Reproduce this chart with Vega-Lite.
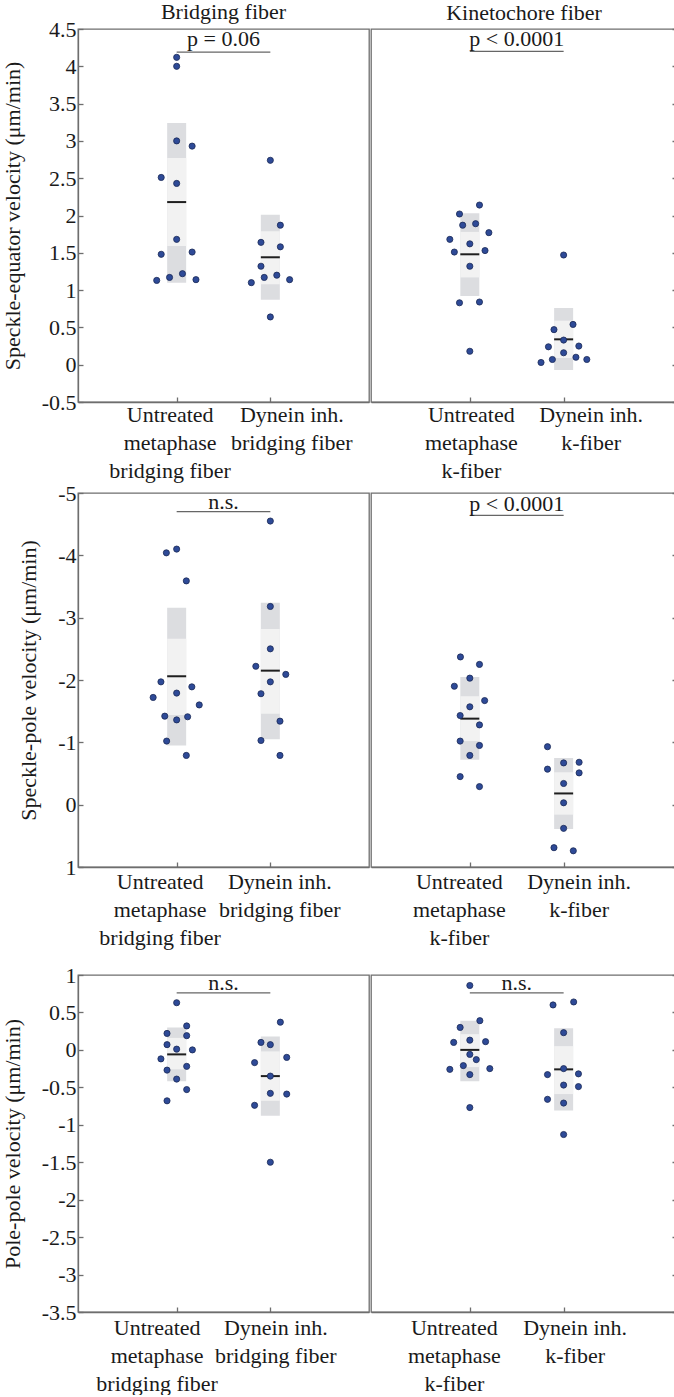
{
  "$schema": "https://vega.github.io/schema/vega-lite/v6.json",
  "padding": {"left": 0, "top": 0, "right": 0, "bottom": 0},
  "background": "white",
  "config": {
    "font": "Liberation Serif",
    "view": {"stroke": "#6e6e6e", "strokeWidth": 1.3},
    "axis": {"domainColor": "#6e6e6e", "domainWidth": 1.3, "tickColor": "#6e6e6e", "tickWidth": 1.3, "tickSize": -5, "labelFont": "Liberation Serif", "labelFontSize": 22, "labelColor": "#1a1a1a", "titleFont": "Liberation Serif", "titleFontSize": 22, "titleFontWeight": "normal", "titleColor": "#1a1a1a", "grid": false, "labelOverlap": false},
    "axisX": {"labelPadding": 5, "labelLineHeight": 28},
    "axisY": {"labelPadding": 7, "titlePadding": 17, "labelOverlap": false},
    "title": {"font": "Liberation Serif", "fontSize": 22, "fontWeight": "normal", "color": "#1a1a1a"}
  },
  "datasets": {
    "summary": [
      {"measure": "eq", "fiber": "B", "slot": 1, "mean": 2.18, "ci_lo": 1.59, "ci_hi": 2.77, "sd_lo": 1.10, "sd_hi": 3.24},
      {"measure": "eq", "fiber": "B", "slot": 2, "mean": 1.44, "ci_lo": 1.08, "ci_hi": 1.79, "sd_lo": 0.87, "sd_hi": 2.01},
      {"measure": "eq", "fiber": "K", "slot": 1, "mean": 1.48, "ci_lo": 1.17, "ci_hi": 1.78, "sd_lo": 0.92, "sd_hi": 2.03},
      {"measure": "eq", "fiber": "K", "slot": 2, "mean": 0.34, "ci_lo": 0.09, "ci_hi": 0.59, "sd_lo": -0.07, "sd_hi": 0.76},
      {"measure": "pole", "fiber": "B", "slot": 1, "mean": -2.06, "ci_lo": -2.66, "ci_hi": -1.44, "sd_lo": -3.16, "sd_hi": -0.95},
      {"measure": "pole", "fiber": "B", "slot": 2, "mean": -2.15, "ci_lo": -2.82, "ci_hi": -1.46, "sd_lo": -3.24, "sd_hi": -1.05},
      {"measure": "pole", "fiber": "K", "slot": 1, "mean": -1.38, "ci_lo": -1.74, "ci_hi": -1.02, "sd_lo": -2.05, "sd_hi": -0.72},
      {"measure": "pole", "fiber": "K", "slot": 2, "mean": -0.18, "ci_lo": -0.52, "ci_hi": 0.16, "sd_lo": -0.75, "sd_hi": 0.39},
      {"measure": "pp", "fiber": "B", "slot": 1, "mean": -0.06, "ci_lo": -0.26, "ci_hi": 0.16, "sd_lo": -0.42, "sd_hi": 0.30},
      {"measure": "pp", "fiber": "B", "slot": 2, "mean": -0.35, "ci_lo": -0.68, "ci_hi": -0.02, "sd_lo": -0.88, "sd_hi": 0.18},
      {"measure": "pp", "fiber": "K", "slot": 1, "mean": 0.00, "ci_lo": -0.23, "ci_hi": 0.21, "sd_lo": -0.42, "sd_hi": 0.39},
      {"measure": "pp", "fiber": "K", "slot": 2, "mean": -0.26, "ci_lo": -0.59, "ci_hi": 0.05, "sd_lo": -0.81, "sd_hi": 0.29}
    ],
    "sig": [
      {"measure": "eq", "fiber": "B", "xa": 1, "xb": 2, "xm": 1.5, "yl": 4.19, "yt": 4.36, "label": "p = 0.06"},
      {"measure": "eq", "fiber": "K", "xa": 1, "xb": 2, "xm": 1.5, "yl": 4.20, "yt": 4.36, "label": "p < 0.0001"},
      {"measure": "pole", "fiber": "B", "xa": 1, "xb": 2, "xm": 1.5, "yl": -4.70, "yt": -4.86, "label": "n.s."},
      {"measure": "pole", "fiber": "K", "xa": 1, "xb": 2, "xm": 1.5, "yl": -4.64, "yt": -4.83, "label": "p < 0.0001"},
      {"measure": "pp", "fiber": "B", "xa": 1, "xb": 2, "xm": 1.5, "yl": 0.76, "yt": 0.89, "label": "n.s."},
      {"measure": "pp", "fiber": "K", "xa": 1, "xb": 2, "xm": 1.5, "yl": 0.76, "yt": 0.89, "label": "n.s."}
    ],
    "points": [
      {"measure": "eq", "fiber": "B", "x": 1, "v": 4.12}, {"measure": "eq", "fiber": "B", "x": 1, "v": 4.0}, {"measure": "eq", "fiber": "B", "x": 1, "v": 3.0},
      {"measure": "eq", "fiber": "B", "x": 1.165, "v": 2.93}, {"measure": "eq", "fiber": "B", "x": 0.835, "v": 2.51}, {"measure": "eq", "fiber": "B", "x": 1, "v": 2.43},
      {"measure": "eq", "fiber": "B", "x": 1, "v": 1.68}, {"measure": "eq", "fiber": "B", "x": 0.835, "v": 1.48}, {"measure": "eq", "fiber": "B", "x": 1.165, "v": 1.51},
      {"measure": "eq", "fiber": "B", "x": 0.787, "v": 1.13}, {"measure": "eq", "fiber": "B", "x": 0.924, "v": 1.17}, {"measure": "eq", "fiber": "B", "x": 1.062, "v": 1.22},
      {"measure": "eq", "fiber": "B", "x": 1.206, "v": 1.14},
      {"measure": "eq", "fiber": "B", "x": 2, "v": 2.74}, {"measure": "eq", "fiber": "B", "x": 2.107, "v": 1.87}, {"measure": "eq", "fiber": "B", "x": 1.9, "v": 1.64},
      {"measure": "eq", "fiber": "B", "x": 2.107, "v": 1.58}, {"measure": "eq", "fiber": "B", "x": 1.9, "v": 1.32}, {"measure": "eq", "fiber": "B", "x": 1.935, "v": 1.17},
      {"measure": "eq", "fiber": "B", "x": 2.069, "v": 1.20}, {"measure": "eq", "fiber": "B", "x": 1.797, "v": 1.10}, {"measure": "eq", "fiber": "B", "x": 2.206, "v": 1.14},
      {"measure": "eq", "fiber": "B", "x": 2, "v": 0.64},
      {"measure": "eq", "fiber": "K", "x": 1.103, "v": 2.14}, {"measure": "eq", "fiber": "K", "x": 0.89, "v": 2.02}, {"measure": "eq", "fiber": "K", "x": 0.924, "v": 1.87},
      {"measure": "eq", "fiber": "K", "x": 1.062, "v": 1.89}, {"measure": "eq", "fiber": "K", "x": 1.203, "v": 1.77}, {"measure": "eq", "fiber": "K", "x": 0.787, "v": 1.68},
      {"measure": "eq", "fiber": "K", "x": 1, "v": 1.62}, {"measure": "eq", "fiber": "K", "x": 0.835, "v": 1.51}, {"measure": "eq", "fiber": "K", "x": 1.162, "v": 1.53},
      {"measure": "eq", "fiber": "K", "x": 1, "v": 1.32}, {"measure": "eq", "fiber": "K", "x": 0.89, "v": 0.83}, {"measure": "eq", "fiber": "K", "x": 1.103, "v": 0.84},
      {"measure": "eq", "fiber": "K", "x": 1, "v": 0.18},
      {"measure": "eq", "fiber": "K", "x": 2, "v": 1.47}, {"measure": "eq", "fiber": "K", "x": 2.1, "v": 0.54}, {"measure": "eq", "fiber": "K", "x": 1.897, "v": 0.47},
      {"measure": "eq", "fiber": "K", "x": 2, "v": 0.33}, {"measure": "eq", "fiber": "K", "x": 1.838, "v": 0.24}, {"measure": "eq", "fiber": "K", "x": 2.162, "v": 0.25},
      {"measure": "eq", "fiber": "K", "x": 2, "v": 0.16}, {"measure": "eq", "fiber": "K", "x": 1.88, "v": 0.07}, {"measure": "eq", "fiber": "K", "x": 2.131, "v": 0.10},
      {"measure": "eq", "fiber": "K", "x": 2.247, "v": 0.07}, {"measure": "eq", "fiber": "K", "x": 1.759, "v": 0.03},
      {"measure": "pole", "fiber": "B", "x": 0.89, "v": -4.04}, {"measure": "pole", "fiber": "B", "x": 1, "v": -4.10}, {"measure": "pole", "fiber": "B", "x": 1.103, "v": -3.59},
      {"measure": "pole", "fiber": "B", "x": 0.832, "v": -1.97}, {"measure": "pole", "fiber": "B", "x": 1.162, "v": -1.89}, {"measure": "pole", "fiber": "B", "x": 1, "v": -1.79},
      {"measure": "pole", "fiber": "B", "x": 0.749, "v": -1.72}, {"measure": "pole", "fiber": "B", "x": 1.241, "v": -1.60}, {"measure": "pole", "fiber": "B", "x": 0.873, "v": -1.42},
      {"measure": "pole", "fiber": "B", "x": 1.117, "v": -1.41}, {"measure": "pole", "fiber": "B", "x": 1, "v": -1.36}, {"measure": "pole", "fiber": "B", "x": 0.893, "v": -1.02},
      {"measure": "pole", "fiber": "B", "x": 1.103, "v": -0.79},
      {"measure": "pole", "fiber": "B", "x": 2, "v": -4.55}, {"measure": "pole", "fiber": "B", "x": 2, "v": -3.18}, {"measure": "pole", "fiber": "B", "x": 2, "v": -2.50},
      {"measure": "pole", "fiber": "B", "x": 1.845, "v": -2.22}, {"measure": "pole", "fiber": "B", "x": 2.165, "v": -2.09}, {"measure": "pole", "fiber": "B", "x": 2, "v": -1.97},
      {"measure": "pole", "fiber": "B", "x": 1.9, "v": -1.78}, {"measure": "pole", "fiber": "B", "x": 2.103, "v": -1.34}, {"measure": "pole", "fiber": "B", "x": 1.9, "v": -1.03},
      {"measure": "pole", "fiber": "B", "x": 2.103, "v": -0.79},
      {"measure": "pole", "fiber": "K", "x": 0.9, "v": -2.37}, {"measure": "pole", "fiber": "K", "x": 1.103, "v": -2.25}, {"measure": "pole", "fiber": "K", "x": 1, "v": -2.03},
      {"measure": "pole", "fiber": "K", "x": 0.835, "v": -1.90}, {"measure": "pole", "fiber": "K", "x": 1.158, "v": -1.67}, {"measure": "pole", "fiber": "K", "x": 1, "v": -1.57},
      {"measure": "pole", "fiber": "K", "x": 0.897, "v": -1.43}, {"measure": "pole", "fiber": "K", "x": 1.103, "v": -1.28}, {"measure": "pole", "fiber": "K", "x": 0.897, "v": -1.02},
      {"measure": "pole", "fiber": "K", "x": 1.103, "v": -0.95}, {"measure": "pole", "fiber": "K", "x": 1, "v": -0.79}, {"measure": "pole", "fiber": "K", "x": 0.897, "v": -0.45},
      {"measure": "pole", "fiber": "K", "x": 1.103, "v": -0.29},
      {"measure": "pole", "fiber": "K", "x": 1.828, "v": -0.93}, {"measure": "pole", "fiber": "K", "x": 2, "v": -0.67}, {"measure": "pole", "fiber": "K", "x": 2.165, "v": -0.68},
      {"measure": "pole", "fiber": "K", "x": 1.828, "v": -0.57}, {"measure": "pole", "fiber": "K", "x": 2.165, "v": -0.51}, {"measure": "pole", "fiber": "K", "x": 2, "v": -0.34},
      {"measure": "pole", "fiber": "K", "x": 2, "v": -0.03}, {"measure": "pole", "fiber": "K", "x": 2, "v": 0.38}, {"measure": "pole", "fiber": "K", "x": 1.897, "v": 0.69},
      {"measure": "pole", "fiber": "K", "x": 2.103, "v": 0.74},
      {"measure": "pp", "fiber": "B", "x": 1, "v": 0.63}, {"measure": "pp", "fiber": "B", "x": 1.107, "v": 0.32}, {"measure": "pp", "fiber": "B", "x": 0.897, "v": 0.22},
      {"measure": "pp", "fiber": "B", "x": 1.107, "v": 0.19}, {"measure": "pp", "fiber": "B", "x": 0.897, "v": 0.07}, {"measure": "pp", "fiber": "B", "x": 1, "v": 0.01},
      {"measure": "pp", "fiber": "B", "x": 1.168, "v": 0.0}, {"measure": "pp", "fiber": "B", "x": 0.832, "v": -0.12}, {"measure": "pp", "fiber": "B", "x": 0.897, "v": -0.27},
      {"measure": "pp", "fiber": "B", "x": 1.107, "v": -0.22}, {"measure": "pp", "fiber": "B", "x": 1, "v": -0.39}, {"measure": "pp", "fiber": "B", "x": 1.107, "v": -0.53},
      {"measure": "pp", "fiber": "B", "x": 0.897, "v": -0.68},
      {"measure": "pp", "fiber": "B", "x": 2.107, "v": 0.37}, {"measure": "pp", "fiber": "B", "x": 1.9, "v": 0.10}, {"measure": "pp", "fiber": "B", "x": 2, "v": 0.07},
      {"measure": "pp", "fiber": "B", "x": 2.175, "v": -0.10}, {"measure": "pp", "fiber": "B", "x": 1.832, "v": -0.17}, {"measure": "pp", "fiber": "B", "x": 2, "v": -0.35},
      {"measure": "pp", "fiber": "B", "x": 2, "v": -0.58}, {"measure": "pp", "fiber": "B", "x": 2.175, "v": -0.59}, {"measure": "pp", "fiber": "B", "x": 1.832, "v": -0.74},
      {"measure": "pp", "fiber": "B", "x": 2, "v": -1.50},
      {"measure": "pp", "fiber": "K", "x": 1, "v": 0.86}, {"measure": "pp", "fiber": "K", "x": 1.107, "v": 0.39}, {"measure": "pp", "fiber": "K", "x": 0.897, "v": 0.30},
      {"measure": "pp", "fiber": "K", "x": 1, "v": 0.13}, {"measure": "pp", "fiber": "K", "x": 0.828, "v": 0.10}, {"measure": "pp", "fiber": "K", "x": 1.168, "v": 0.11},
      {"measure": "pp", "fiber": "K", "x": 1, "v": -0.06}, {"measure": "pp", "fiber": "K", "x": 1.069, "v": -0.13}, {"measure": "pp", "fiber": "K", "x": 0.931, "v": -0.21},
      {"measure": "pp", "fiber": "K", "x": 0.787, "v": -0.26}, {"measure": "pp", "fiber": "K", "x": 1.213, "v": -0.25}, {"measure": "pp", "fiber": "K", "x": 1, "v": -0.33},
      {"measure": "pp", "fiber": "K", "x": 1, "v": -0.77},
      {"measure": "pp", "fiber": "K", "x": 2.107, "v": 0.64}, {"measure": "pp", "fiber": "K", "x": 1.887, "v": 0.60}, {"measure": "pp", "fiber": "K", "x": 2, "v": 0.23},
      {"measure": "pp", "fiber": "K", "x": 2, "v": -0.25}, {"measure": "pp", "fiber": "K", "x": 1.828, "v": -0.33}, {"measure": "pp", "fiber": "K", "x": 2.158, "v": -0.32},
      {"measure": "pp", "fiber": "K", "x": 2, "v": -0.47}, {"measure": "pp", "fiber": "K", "x": 2.158, "v": -0.49}, {"measure": "pp", "fiber": "K", "x": 1.828, "v": -0.66},
      {"measure": "pp", "fiber": "K", "x": 2, "v": -0.71}, {"measure": "pp", "fiber": "K", "x": 2, "v": -1.13}
    ]
  },
  "vconcat": [
    {"vconcat": [
    {"hconcat": [
      {"width": 291, "height": 373, "title": {"text": "Bridging fiber", "offset": -6},
       "layer": [
        {"data": {"name": "summary"}, "transform": [{"filter": "datum.measure === 'eq' && datum.fiber === 'B'"}],
         "mark": {"type": "bar", "width": 19, "color": "#dcdde0"},
         "encoding": {
          "x": {"field": "slot", "type": "quantitative", "title": null, "scale": {"domain": [0, 3], "nice": false, "zero": false}, "axis": {"values": [1, 2], "labelPadding": 7, "labelOffset": {"condition": {"test": "datum.value == 1", "value": -7}, "value": 21}, "labelExpr": "datum.value == 1 ? ['Untreated', 'metaphase', 'bridging fiber'] : ['Dynein inh.', 'bridging fiber']"}},
          "y": {"field": "sd_lo", "type": "quantitative", "title": "Speckle-equator velocity (μm/min)", "scale": {"domain": [-0.5, 4.5], "nice": false, "zero": false}, "axis": {"values": [-0.5, 0, 0.5, 1, 1.5, 2, 2.5, 3, 3.5, 4, 4.5], "tickCount": 30, "labelOverlap": false, "labelExpr": "toString(datum.value)"}},
          "y2": {"field": "sd_hi"}}},
        {"data": {"name": "summary"}, "transform": [{"filter": "datum.measure === 'eq' && datum.fiber === 'B'"}],
         "mark": {"type": "bar", "width": 19, "color": "#f2f2f2"},
         "encoding": {"x": {"field": "slot", "type": "quantitative", "title": null}, "y": {"field": "ci_lo", "type": "quantitative", "title": "Speckle-equator velocity (μm/min)"}, "y2": {"field": "ci_hi"}}},
        {"data": {"name": "summary"}, "transform": [{"filter": "datum.measure === 'eq' && datum.fiber === 'B'"}],
         "mark": {"type": "tick", "orient": "horizontal", "size": 19, "thickness": 2, "color": "#1e1e1e", "opacity": 1},
         "encoding": {"x": {"field": "slot", "type": "quantitative", "title": null}, "y": {"field": "mean", "type": "quantitative", "title": "Speckle-equator velocity (μm/min)"}}},
        {"data": {"name": "points"}, "transform": [{"filter": "datum.measure === 'eq' && datum.fiber === 'B'"}],
         "mark": {"type": "point", "filled": true, "size": 38, "fill": "#2e4a97", "stroke": "#1b2a56", "strokeWidth": 0.8, "opacity": 1},
         "encoding": {"x": {"field": "x", "type": "quantitative", "title": null}, "y": {"field": "v", "type": "quantitative", "title": "Speckle-equator velocity (μm/min)"}}},
        {"data": {"name": "sig"}, "transform": [{"filter": "datum.measure === 'eq' && datum.fiber === 'B'"}],
         "mark": {"type": "rule", "color": "#666666", "strokeWidth": 1.2},
         "encoding": {"x": {"field": "xa", "type": "quantitative", "title": null}, "x2": {"field": "xb"}, "y": {"field": "yl", "type": "quantitative", "title": "Speckle-equator velocity (μm/min)"}}},
        {"data": {"name": "sig"}, "transform": [{"filter": "datum.measure === 'eq' && datum.fiber === 'B'"}],
         "mark": {"type": "text", "fontSize": 22, "baseline": "middle", "color": "#1a1a1a"},
         "encoding": {"x": {"field": "xm", "type": "quantitative", "title": null}, "y": {"field": "yt", "type": "quantitative", "title": "Speckle-equator velocity (μm/min)"}, "text": {"field": "label"}}}
       ]},
      {"width": 306, "height": 373, "title": {"text": "Kinetochore fiber", "offset": 3},
       "layer": [
        {"data": {"name": "summary"}, "transform": [{"filter": "datum.measure === 'eq' && datum.fiber === 'K'"}],
         "mark": {"type": "bar", "width": 19, "color": "#dcdde0"},
         "encoding": {
          "x": {"field": "slot", "type": "quantitative", "title": null, "scale": {"domain": [0, 3.155], "nice": false, "zero": false}, "axis": {"values": [1, 2], "labelPadding": 7, "labelOffset": {"condition": {"test": "datum.value == 1", "value": 1}, "value": 27}, "labelExpr": "datum.value == 1 ? ['Untreated', 'metaphase', 'k-fiber'] : ['Dynein inh.', 'k-fiber']"}},
          "y": {"field": "sd_lo", "type": "quantitative", "title": null, "scale": {"domain": [-0.5, 4.5], "nice": false, "zero": false}, "axis": {"orient": "right", "values": [-0.5, 0, 0.5, 1, 1.5, 2, 2.5, 3, 3.5, 4, 4.5], "tickCount": 30, "labels": false}},
          "y2": {"field": "sd_hi"}}},
        {"data": {"name": "summary"}, "transform": [{"filter": "datum.measure === 'eq' && datum.fiber === 'K'"}],
         "mark": {"type": "bar", "width": 19, "color": "#f2f2f2"},
         "encoding": {"x": {"field": "slot", "type": "quantitative", "title": null}, "y": {"field": "ci_lo", "type": "quantitative", "title": null}, "y2": {"field": "ci_hi"}}},
        {"data": {"name": "summary"}, "transform": [{"filter": "datum.measure === 'eq' && datum.fiber === 'K'"}],
         "mark": {"type": "tick", "orient": "horizontal", "size": 19, "thickness": 2, "color": "#1e1e1e", "opacity": 1},
         "encoding": {"x": {"field": "slot", "type": "quantitative", "title": null}, "y": {"field": "mean", "type": "quantitative", "title": null}}},
        {"data": {"name": "points"}, "transform": [{"filter": "datum.measure === 'eq' && datum.fiber === 'K'"}],
         "mark": {"type": "point", "filled": true, "size": 38, "fill": "#2e4a97", "stroke": "#1b2a56", "strokeWidth": 0.8, "opacity": 1},
         "encoding": {"x": {"field": "x", "type": "quantitative", "title": null}, "y": {"field": "v", "type": "quantitative", "title": null}}},
        {"data": {"name": "sig"}, "transform": [{"filter": "datum.measure === 'eq' && datum.fiber === 'K'"}],
         "mark": {"type": "rule", "color": "#666666", "strokeWidth": 1.2},
         "encoding": {"x": {"field": "xa", "type": "quantitative", "title": null}, "x2": {"field": "xb"}, "y": {"field": "yl", "type": "quantitative", "title": null}}},
        {"data": {"name": "sig"}, "transform": [{"filter": "datum.measure === 'eq' && datum.fiber === 'K'"}],
         "mark": {"type": "text", "fontSize": 22, "baseline": "middle", "color": "#1a1a1a"},
         "encoding": {"x": {"field": "xm", "type": "quantitative", "title": null}, "y": {"field": "yt", "type": "quantitative", "title": null}, "text": {"field": "label"}}}
       ]}
    ], "spacing": 0},
    {"hconcat": [
      {"width": 291, "height": 374,
       "layer": [
        {"data": {"name": "summary"}, "transform": [{"filter": "datum.measure === 'pole' && datum.fiber === 'B'"}],
         "mark": {"type": "bar", "width": 19, "color": "#dcdde0"},
         "encoding": {
          "x": {"field": "slot", "type": "quantitative", "title": null, "scale": {"domain": [0, 3], "nice": false, "zero": false}, "axis": {"values": [1, 2], "labelPadding": 9, "labelOffset": {"condition": {"test": "datum.value == 1", "value": -17}, "value": 9}, "labelExpr": "datum.value == 1 ? ['Untreated', 'metaphase', 'bridging fiber'] : ['Dynein inh.', 'bridging fiber']"}},
          "y": {"field": "sd_lo", "type": "quantitative", "title": "Speckle-pole velocity (μm/min)", "scale": {"domain": [-5, 1], "reverse": true, "nice": false, "zero": false}, "axis": {"values": [-5, -4, -3, -2, -1, 0, 1], "tickCount": 30, "labelOverlap": false, "labelExpr": "toString(datum.value)"}},
          "y2": {"field": "sd_hi"}}},
        {"data": {"name": "summary"}, "transform": [{"filter": "datum.measure === 'pole' && datum.fiber === 'B'"}],
         "mark": {"type": "bar", "width": 19, "color": "#f2f2f2"},
         "encoding": {"x": {"field": "slot", "type": "quantitative", "title": null}, "y": {"field": "ci_lo", "type": "quantitative", "title": "Speckle-pole velocity (μm/min)"}, "y2": {"field": "ci_hi"}}},
        {"data": {"name": "summary"}, "transform": [{"filter": "datum.measure === 'pole' && datum.fiber === 'B'"}],
         "mark": {"type": "tick", "orient": "horizontal", "size": 19, "thickness": 2, "color": "#1e1e1e", "opacity": 1},
         "encoding": {"x": {"field": "slot", "type": "quantitative", "title": null}, "y": {"field": "mean", "type": "quantitative", "title": "Speckle-pole velocity (μm/min)"}}},
        {"data": {"name": "points"}, "transform": [{"filter": "datum.measure === 'pole' && datum.fiber === 'B'"}],
         "mark": {"type": "point", "filled": true, "size": 38, "fill": "#2e4a97", "stroke": "#1b2a56", "strokeWidth": 0.8, "opacity": 1},
         "encoding": {"x": {"field": "x", "type": "quantitative", "title": null}, "y": {"field": "v", "type": "quantitative", "title": "Speckle-pole velocity (μm/min)"}}},
        {"data": {"name": "sig"}, "transform": [{"filter": "datum.measure === 'pole' && datum.fiber === 'B'"}],
         "mark": {"type": "rule", "color": "#666666", "strokeWidth": 1.2},
         "encoding": {"x": {"field": "xa", "type": "quantitative", "title": null}, "x2": {"field": "xb"}, "y": {"field": "yl", "type": "quantitative", "title": "Speckle-pole velocity (μm/min)"}}},
        {"data": {"name": "sig"}, "transform": [{"filter": "datum.measure === 'pole' && datum.fiber === 'B'"}],
         "mark": {"type": "text", "fontSize": 22, "baseline": "middle", "color": "#1a1a1a"},
         "encoding": {"x": {"field": "xm", "type": "quantitative", "title": null}, "y": {"field": "yt", "type": "quantitative", "title": "Speckle-pole velocity (μm/min)"}, "text": {"field": "label"}}}
       ]},
      {"width": 306, "height": 374,
       "layer": [
        {"data": {"name": "summary"}, "transform": [{"filter": "datum.measure === 'pole' && datum.fiber === 'K'"}],
         "mark": {"type": "bar", "width": 19, "color": "#dcdde0"},
         "encoding": {
          "x": {"field": "slot", "type": "quantitative", "title": null, "scale": {"domain": [0, 3.155], "nice": false, "zero": false}, "axis": {"values": [1, 2], "labelPadding": 9, "labelOffset": {"condition": {"test": "datum.value == 1", "value": -11}, "value": 15}, "labelExpr": "datum.value == 1 ? ['Untreated', 'metaphase', 'k-fiber'] : ['Dynein inh.', 'k-fiber']"}},
          "y": {"field": "sd_lo", "type": "quantitative", "title": null, "scale": {"domain": [-5, 1], "reverse": true, "nice": false, "zero": false}, "axis": {"orient": "right", "values": [-5, -4, -3, -2, -1, 0, 1], "tickCount": 30, "labels": false}},
          "y2": {"field": "sd_hi"}}},
        {"data": {"name": "summary"}, "transform": [{"filter": "datum.measure === 'pole' && datum.fiber === 'K'"}],
         "mark": {"type": "bar", "width": 19, "color": "#f2f2f2"},
         "encoding": {"x": {"field": "slot", "type": "quantitative", "title": null}, "y": {"field": "ci_lo", "type": "quantitative", "title": null}, "y2": {"field": "ci_hi"}}},
        {"data": {"name": "summary"}, "transform": [{"filter": "datum.measure === 'pole' && datum.fiber === 'K'"}],
         "mark": {"type": "tick", "orient": "horizontal", "size": 19, "thickness": 2, "color": "#1e1e1e", "opacity": 1},
         "encoding": {"x": {"field": "slot", "type": "quantitative", "title": null}, "y": {"field": "mean", "type": "quantitative", "title": null}}},
        {"data": {"name": "points"}, "transform": [{"filter": "datum.measure === 'pole' && datum.fiber === 'K'"}],
         "mark": {"type": "point", "filled": true, "size": 38, "fill": "#2e4a97", "stroke": "#1b2a56", "strokeWidth": 0.8, "opacity": 1},
         "encoding": {"x": {"field": "x", "type": "quantitative", "title": null}, "y": {"field": "v", "type": "quantitative", "title": null}}},
        {"data": {"name": "sig"}, "transform": [{"filter": "datum.measure === 'pole' && datum.fiber === 'K'"}],
         "mark": {"type": "rule", "color": "#666666", "strokeWidth": 1.2},
         "encoding": {"x": {"field": "xa", "type": "quantitative", "title": null}, "x2": {"field": "xb"}, "y": {"field": "yl", "type": "quantitative", "title": null}}},
        {"data": {"name": "sig"}, "transform": [{"filter": "datum.measure === 'pole' && datum.fiber === 'K'"}],
         "mark": {"type": "text", "fontSize": 22, "baseline": "middle", "color": "#1a1a1a"},
         "encoding": {"x": {"field": "xm", "type": "quantitative", "title": null}, "y": {"field": "yt", "type": "quantitative", "title": null}, "text": {"field": "label"}}}
       ]}
    ], "spacing": 0}
    ], "spacing": -1},
    {"hconcat": [
      {"width": 291, "height": 337,
       "layer": [
        {"data": {"name": "summary"}, "transform": [{"filter": "datum.measure === 'pp' && datum.fiber === 'B'"}],
         "mark": {"type": "bar", "width": 19, "color": "#dcdde0"},
         "encoding": {
          "x": {"field": "slot", "type": "quantitative", "title": null, "scale": {"domain": [0, 3], "nice": false, "zero": false}, "axis": {"values": [1, 2], "labelPadding": 10, "labelOffset": {"condition": {"test": "datum.value == 1", "value": -20}, "value": 5}, "labelExpr": "datum.value == 1 ? ['Untreated', 'metaphase', 'bridging fiber'] : ['Dynein inh.', 'bridging fiber']"}},
          "y": {"field": "sd_lo", "type": "quantitative", "title": "Pole-pole velocity (μm/min)", "scale": {"domain": [-3.5, 1], "nice": false, "zero": false}, "axis": {"values": [-3.5, -3, -2.5, -2, -1.5, -1, -0.5, 0, 0.5, 1], "tickCount": 30, "labelOverlap": false, "labelExpr": "toString(datum.value)"}},
          "y2": {"field": "sd_hi"}}},
        {"data": {"name": "summary"}, "transform": [{"filter": "datum.measure === 'pp' && datum.fiber === 'B'"}],
         "mark": {"type": "bar", "width": 19, "color": "#f2f2f2"},
         "encoding": {"x": {"field": "slot", "type": "quantitative", "title": null}, "y": {"field": "ci_lo", "type": "quantitative", "title": "Pole-pole velocity (μm/min)"}, "y2": {"field": "ci_hi"}}},
        {"data": {"name": "summary"}, "transform": [{"filter": "datum.measure === 'pp' && datum.fiber === 'B'"}],
         "mark": {"type": "tick", "orient": "horizontal", "size": 19, "thickness": 2, "color": "#1e1e1e", "opacity": 1},
         "encoding": {"x": {"field": "slot", "type": "quantitative", "title": null}, "y": {"field": "mean", "type": "quantitative", "title": "Pole-pole velocity (μm/min)"}}},
        {"data": {"name": "points"}, "transform": [{"filter": "datum.measure === 'pp' && datum.fiber === 'B'"}],
         "mark": {"type": "point", "filled": true, "size": 38, "fill": "#2e4a97", "stroke": "#1b2a56", "strokeWidth": 0.8, "opacity": 1},
         "encoding": {"x": {"field": "x", "type": "quantitative", "title": null}, "y": {"field": "v", "type": "quantitative", "title": "Pole-pole velocity (μm/min)"}}},
        {"data": {"name": "sig"}, "transform": [{"filter": "datum.measure === 'pp' && datum.fiber === 'B'"}],
         "mark": {"type": "rule", "color": "#666666", "strokeWidth": 1.2},
         "encoding": {"x": {"field": "xa", "type": "quantitative", "title": null}, "x2": {"field": "xb"}, "y": {"field": "yl", "type": "quantitative", "title": "Pole-pole velocity (μm/min)"}}},
        {"data": {"name": "sig"}, "transform": [{"filter": "datum.measure === 'pp' && datum.fiber === 'B'"}],
         "mark": {"type": "text", "fontSize": 22, "baseline": "middle", "color": "#1a1a1a"},
         "encoding": {"x": {"field": "xm", "type": "quantitative", "title": null}, "y": {"field": "yt", "type": "quantitative", "title": "Pole-pole velocity (μm/min)"}, "text": {"field": "label"}}}
       ]},
      {"width": 306, "height": 337,
       "layer": [
        {"data": {"name": "summary"}, "transform": [{"filter": "datum.measure === 'pp' && datum.fiber === 'K'"}],
         "mark": {"type": "bar", "width": 19, "color": "#dcdde0"},
         "encoding": {
          "x": {"field": "slot", "type": "quantitative", "title": null, "scale": {"domain": [0, 3.155], "nice": false, "zero": false}, "axis": {"values": [1, 2], "labelPadding": 10, "labelOffset": {"condition": {"test": "datum.value == 1", "value": -16}, "value": 11}, "labelExpr": "datum.value == 1 ? ['Untreated', 'metaphase', 'k-fiber'] : ['Dynein inh.', 'k-fiber']"}},
          "y": {"field": "sd_lo", "type": "quantitative", "title": null, "scale": {"domain": [-3.5, 1], "nice": false, "zero": false}, "axis": {"orient": "right", "values": [-3.5, -3, -2.5, -2, -1.5, -1, -0.5, 0, 0.5, 1], "tickCount": 30, "labels": false}},
          "y2": {"field": "sd_hi"}}},
        {"data": {"name": "summary"}, "transform": [{"filter": "datum.measure === 'pp' && datum.fiber === 'K'"}],
         "mark": {"type": "bar", "width": 19, "color": "#f2f2f2"},
         "encoding": {"x": {"field": "slot", "type": "quantitative", "title": null}, "y": {"field": "ci_lo", "type": "quantitative", "title": null}, "y2": {"field": "ci_hi"}}},
        {"data": {"name": "summary"}, "transform": [{"filter": "datum.measure === 'pp' && datum.fiber === 'K'"}],
         "mark": {"type": "tick", "orient": "horizontal", "size": 19, "thickness": 2, "color": "#1e1e1e", "opacity": 1},
         "encoding": {"x": {"field": "slot", "type": "quantitative", "title": null}, "y": {"field": "mean", "type": "quantitative", "title": null}}},
        {"data": {"name": "points"}, "transform": [{"filter": "datum.measure === 'pp' && datum.fiber === 'K'"}],
         "mark": {"type": "point", "filled": true, "size": 38, "fill": "#2e4a97", "stroke": "#1b2a56", "strokeWidth": 0.8, "opacity": 1},
         "encoding": {"x": {"field": "x", "type": "quantitative", "title": null}, "y": {"field": "v", "type": "quantitative", "title": null}}},
        {"data": {"name": "sig"}, "transform": [{"filter": "datum.measure === 'pp' && datum.fiber === 'K'"}],
         "mark": {"type": "rule", "color": "#666666", "strokeWidth": 1.2},
         "encoding": {"x": {"field": "xa", "type": "quantitative", "title": null}, "x2": {"field": "xb"}, "y": {"field": "yl", "type": "quantitative", "title": null}}},
        {"data": {"name": "sig"}, "transform": [{"filter": "datum.measure === 'pp' && datum.fiber === 'K'"}],
         "mark": {"type": "text", "fontSize": 22, "baseline": "middle", "color": "#1a1a1a"},
         "encoding": {"x": {"field": "xm", "type": "quantitative", "title": null}, "y": {"field": "yt", "type": "quantitative", "title": null}, "text": {"field": "label"}}}
       ]}
    ], "spacing": 0}
  ],
  "spacing": 14
}
